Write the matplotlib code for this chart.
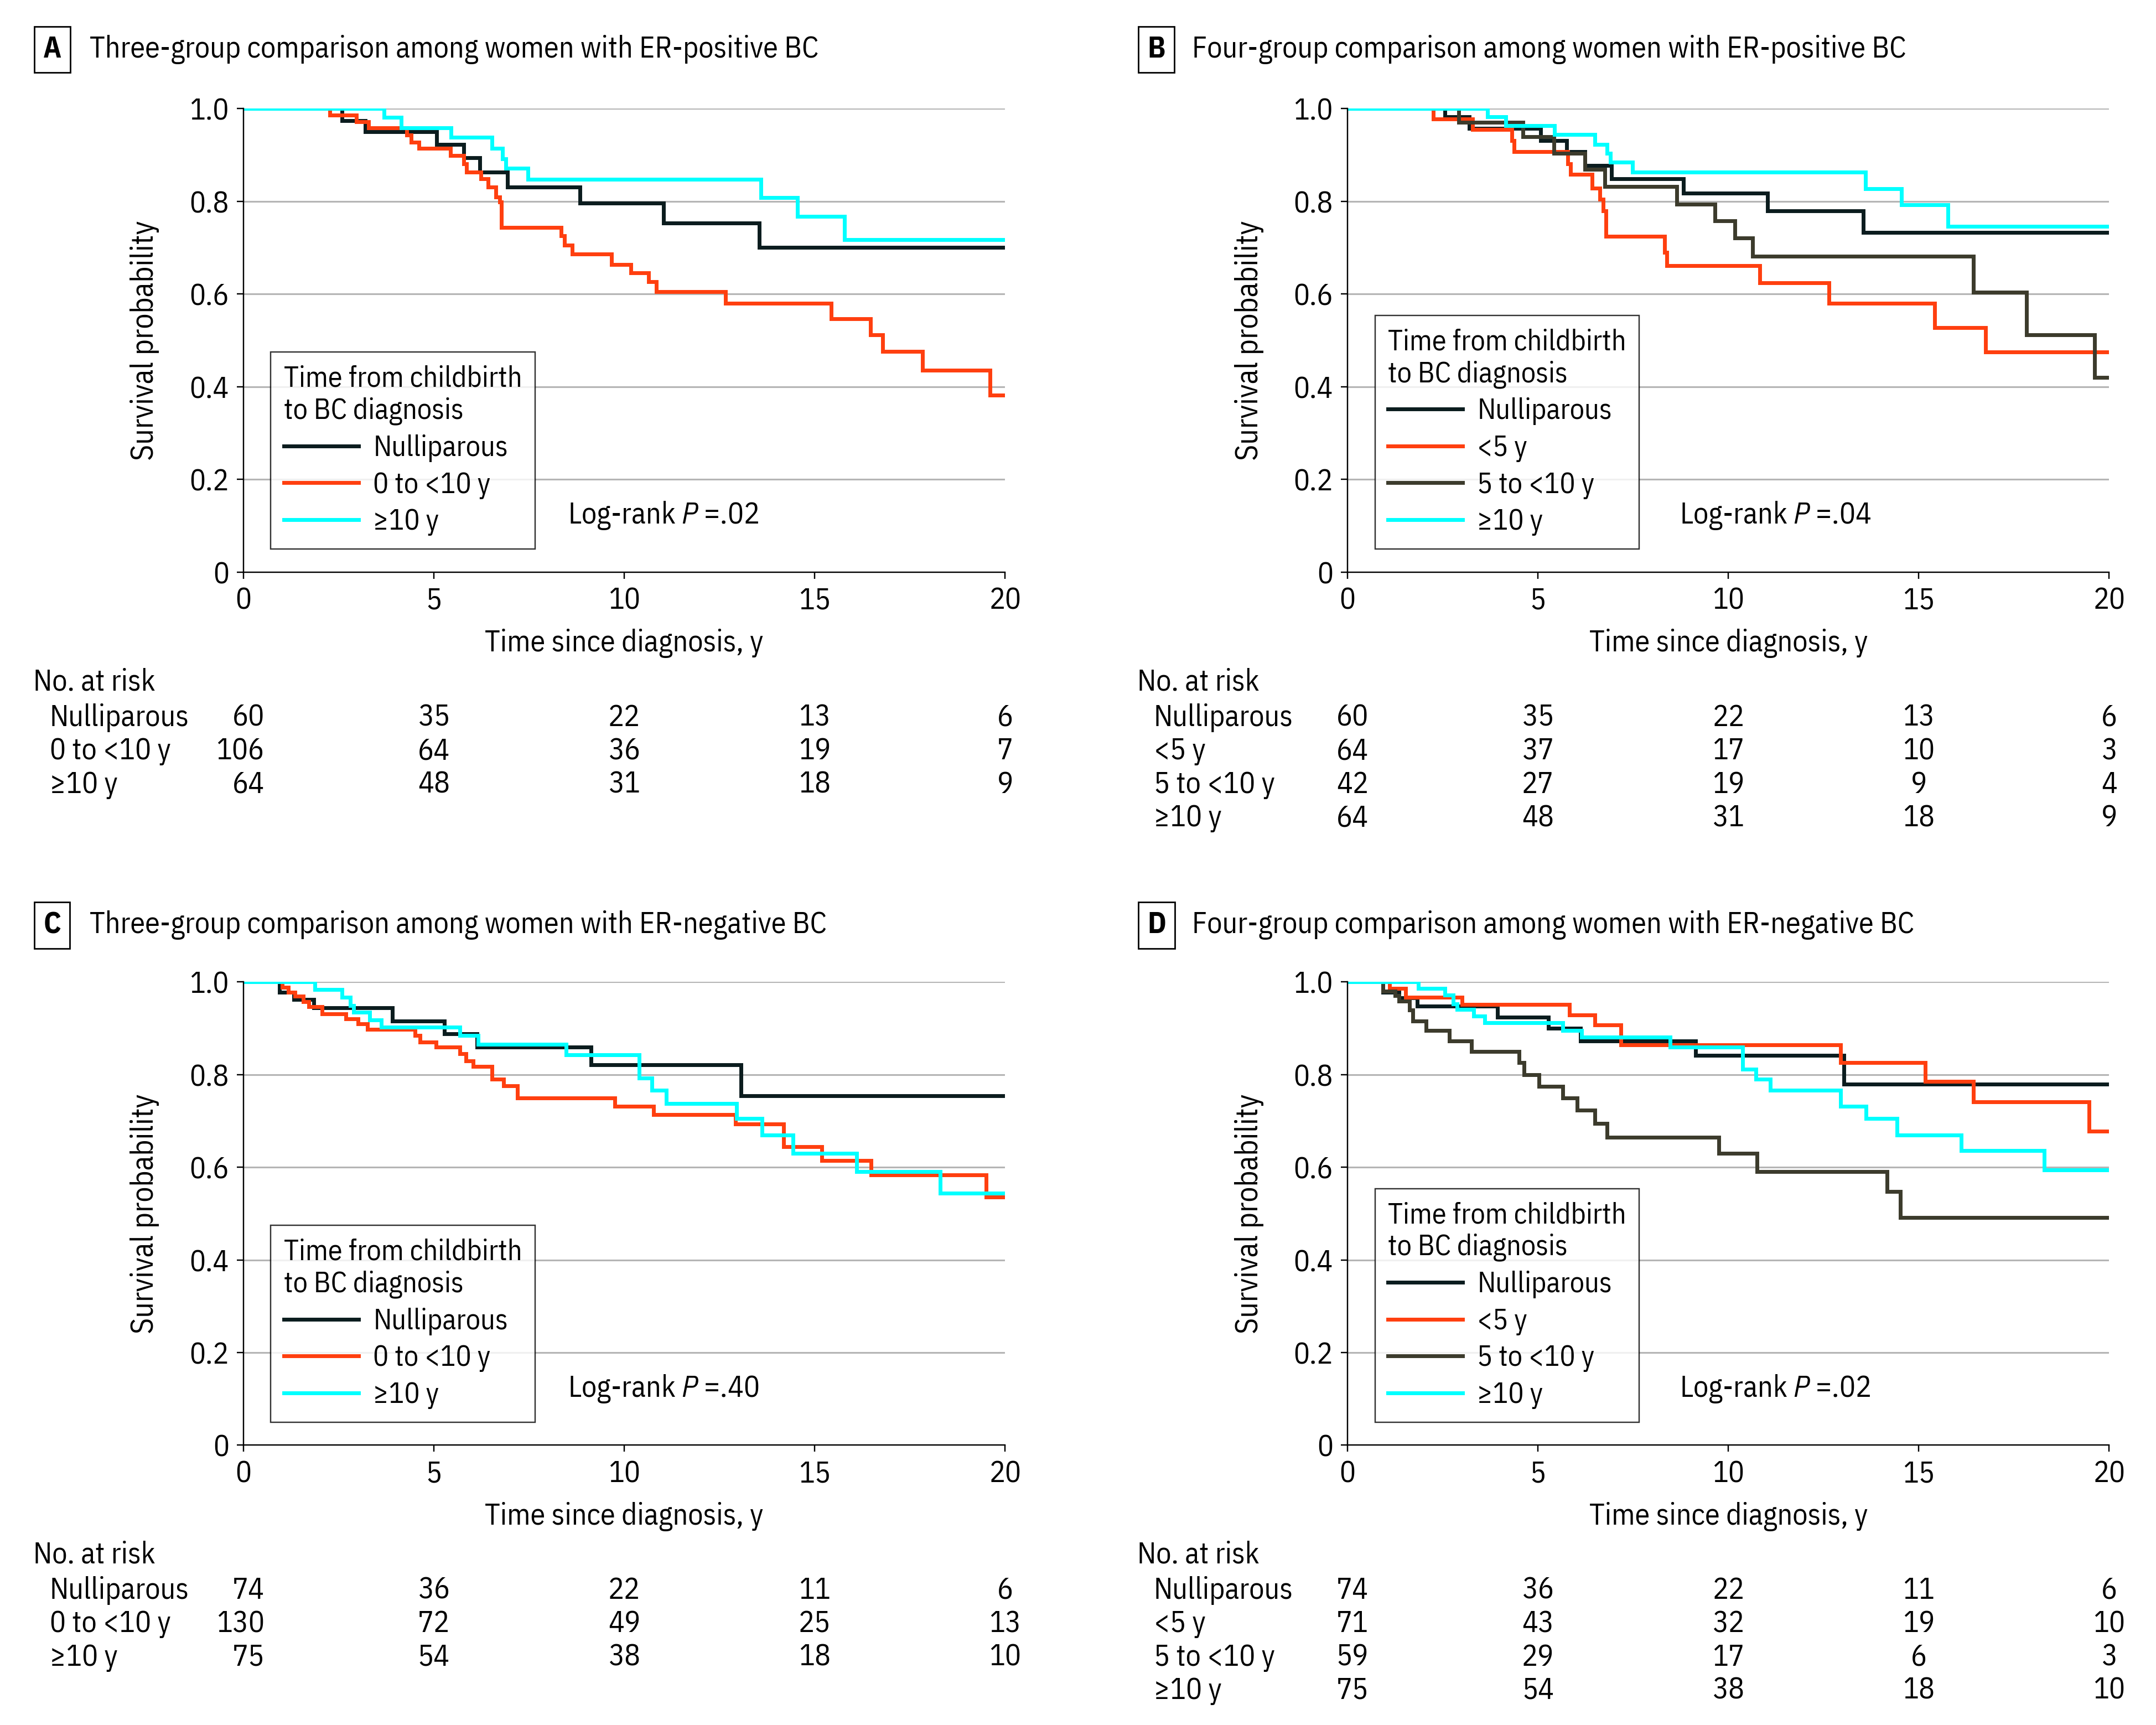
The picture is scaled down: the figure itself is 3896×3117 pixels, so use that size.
import matplotlib
matplotlib.use("Agg")
import matplotlib.pyplot as plt
from matplotlib.lines import Line2D
from matplotlib.transforms import blended_transform_factory

FONT = 'IBM Plex Sans Condensed'
plt.rcParams['font.family'] = [FONT, 'DejaVu Sans']
plt.rcParams['mathtext.fontset'] = 'custom'
plt.rcParams['mathtext.rm'] = FONT
plt.rcParams['mathtext.it'] = FONT + ':italic'
FS = 15.5
LW = 2.0

# colours
c_null = '#0b1c1e'
c_early = '#ff3f0f'
c_mid = '#3c3b2c'
c_late = '#00ffff'

# ---- panel A: ER-positive, three groups
a_null_t = [0, 2.59, 3.20, 5.08, 5.78, 6.20, 6.94, 8.83, 11.03, 13.55, 20]
a_null_s = [1.0, 0.974, 0.950, 0.923, 0.894, 0.863, 0.831, 0.796, 0.753, 0.701, 0.701]
a_early_t = [0, 2.27, 2.97, 3.29, 4.29, 4.40, 4.61, 5.43, 5.78, 5.86, 6.24, 6.42, 6.63, 6.73, 6.78,
             8.34, 8.43, 8.64, 9.67, 10.17, 10.64, 10.84, 12.66, 15.43, 16.46, 16.78, 17.83, 19.61, 20]
a_early_s = [1.0, 0.986, 0.972, 0.959, 0.943, 0.928, 0.914, 0.899, 0.881, 0.863, 0.849, 0.831, 0.809, 0.798, 0.744,
             0.726, 0.706, 0.686, 0.664, 0.646, 0.626, 0.605, 0.580, 0.546, 0.512, 0.476, 0.436, 0.382, 0.382]
a_late_t = [0, 3.69, 4.15, 5.45, 6.52, 6.80, 6.89, 7.47, 13.59, 14.55, 15.78, 20]
a_late_s = [1.0, 0.981, 0.959, 0.938, 0.914, 0.892, 0.872, 0.847, 0.808, 0.767, 0.717, 0.717]

# ---- panel B: ER-positive, four groups
b_null_t = [0, 2.56, 3.19, 5.07, 5.76, 6.24, 6.93, 8.82, 11.03, 13.54, 20]
b_null_s = [1.0, 0.983, 0.957, 0.931, 0.907, 0.878, 0.849, 0.818, 0.779, 0.733, 0.733]
b_lt5_t = [0, 2.25, 3.29, 4.31, 4.38, 5.79, 5.86, 6.42, 6.63, 6.72, 6.78, 8.32, 8.38, 10.83, 12.64, 15.42, 16.76, 20]
b_lt5_s = [1.0, 0.978, 0.955, 0.931, 0.907, 0.881, 0.858, 0.829, 0.805, 0.780, 0.724, 0.690, 0.661, 0.624, 0.580, 0.528, 0.475, 0.475]
b_mid_t = [0, 2.92, 4.61, 5.42, 6.24, 6.76, 8.64, 9.65, 10.17, 10.63, 16.44, 17.83, 19.61, 20]
b_mid_s = [1.0, 0.970, 0.939, 0.904, 0.869, 0.832, 0.794, 0.758, 0.721, 0.682, 0.604, 0.512, 0.420, 0.420]
b_late_t = [0, 3.68, 4.15, 5.44, 6.49, 6.81, 6.90, 7.49, 13.60, 14.54, 15.76, 20]
b_late_s = [1.0, 0.983, 0.963, 0.944, 0.923, 0.904, 0.884, 0.863, 0.827, 0.793, 0.746, 0.746]

# ---- panel C: ER-negative, three groups
c_null_t = [0, 0.95, 1.32, 1.85, 3.91, 5.28, 6.14, 9.12, 13.06, 20]
c_null_s = [1.0, 0.978, 0.962, 0.944, 0.915, 0.888, 0.859, 0.821, 0.754, 0.754]
c_early_t = [0, 1.02, 1.18, 1.36, 1.57, 1.71, 2.06, 2.69, 3.01, 3.25, 4.50, 4.64, 5.06, 5.68, 5.85, 6.03,
             6.52, 6.83, 7.19, 9.75, 10.77, 12.92, 14.18, 15.18, 16.48, 19.50, 20]
c_early_s = [1.0, 0.988, 0.978, 0.969, 0.957, 0.947, 0.931, 0.920, 0.910, 0.897, 0.884, 0.870, 0.859, 0.845, 0.830, 0.817,
             0.790, 0.776, 0.749, 0.732, 0.714, 0.693, 0.644, 0.615, 0.583, 0.536, 0.536]
c_late_t = [0, 1.88, 2.59, 2.80, 2.90, 3.31, 3.62, 5.68, 6.17, 8.47, 10.39, 10.72, 11.11, 12.95, 13.62, 14.43, 16.10, 18.29, 20]
c_late_s = [1.0, 0.983, 0.967, 0.949, 0.935, 0.918, 0.902, 0.884, 0.865, 0.843, 0.792, 0.766, 0.737, 0.705, 0.669, 0.630, 0.591, 0.544, 0.544]

# ---- panel D: ER-negative, four groups
d_null_t = [0, 0.93, 1.35, 1.83, 3.94, 5.28, 6.11, 9.14, 13.04, 20]
d_null_s = [1.0, 0.978, 0.965, 0.948, 0.924, 0.900, 0.873, 0.841, 0.779, 0.779]
d_lt5_t = [0, 1.11, 1.53, 3.01, 5.82, 6.49, 7.18, 12.94, 15.17, 16.44, 19.47, 20]
d_lt5_s = [1.0, 0.986, 0.967, 0.951, 0.929, 0.907, 0.864, 0.826, 0.785, 0.741, 0.678, 0.678]
d_mid_t = [0, 0.93, 1.25, 1.35, 1.63, 1.72, 2.07, 2.67, 3.25, 4.50, 4.64, 5.03, 5.65, 6.03, 6.49, 6.81, 9.75, 10.75, 14.17, 14.51, 20]
d_mid_s = [1.0, 0.980, 0.970, 0.958, 0.939, 0.915, 0.895, 0.873, 0.850, 0.826, 0.800, 0.774, 0.749, 0.723, 0.694, 0.665, 0.630, 0.591, 0.547, 0.492, 0.492]
d_late_t = [0, 1.86, 2.56, 2.78, 2.88, 3.32, 3.61, 5.65, 6.14, 8.47, 10.38, 10.72, 11.10, 12.94, 13.61, 14.43, 16.11, 18.29, 20]
d_late_s = [1.0, 0.986, 0.971, 0.953, 0.941, 0.926, 0.912, 0.895, 0.881, 0.859, 0.812, 0.790, 0.766, 0.732, 0.705, 0.669, 0.636, 0.594, 0.594]

# numbers at risk
risk_times = [0, 5, 10, 15, 20]
a_risk = {'Nulliparous': [60, 35, 22, 13, 6], '0 to <10 y': [106, 64, 36, 19, 7], '≥10 y': [64, 48, 31, 18, 9]}
b_risk = {'Nulliparous': [60, 35, 22, 13, 6], '<5 y': [64, 37, 17, 10, 3], '5 to <10 y': [42, 27, 19, 9, 4], '≥10 y': [64, 48, 31, 18, 9]}
c_risk = {'Nulliparous': [74, 36, 22, 11, 6], '0 to <10 y': [130, 72, 49, 25, 13], '≥10 y': [75, 54, 38, 18, 10]}
d_risk = {'Nulliparous': [74, 36, 22, 11, 6], '<5 y': [71, 43, 32, 19, 10], '5 to <10 y': [59, 29, 17, 6, 3], '≥10 y': [75, 54, 38, 18, 10]}

pvals = ['.02', '.04', '.40', '.02']
titles = ['Three-group comparison among women with ER-positive BC',
          'Four-group comparison among women with ER-positive BC',
          'Three-group comparison among women with ER-negative BC',
          'Four-group comparison among women with ER-negative BC']
letters = ['A', 'B', 'C', 'D']

panels = [
    [(a_null_t, a_null_s, c_null, 'Nulliparous'), (a_early_t, a_early_s, c_early, '0 to <10 y'), (a_late_t, a_late_s, c_late, '≥10 y')],
    [(b_null_t, b_null_s, c_null, 'Nulliparous'), (b_lt5_t, b_lt5_s, c_early, '<5 y'), (b_mid_t, b_mid_s, c_mid, '5 to <10 y'), (b_late_t, b_late_s, c_late, '≥10 y')],
    [(c_null_t, c_null_s, c_null, 'Nulliparous'), (c_early_t, c_early_s, c_early, '0 to <10 y'), (c_late_t, c_late_s, c_late, '≥10 y')],
    [(d_null_t, d_null_s, c_null, 'Nulliparous'), (d_lt5_t, d_lt5_s, c_early, '<5 y'), (d_mid_t, d_mid_s, c_mid, '5 to <10 y'), (d_late_t, d_late_s, c_late, '≥10 y')],
]
risks = [a_risk, b_risk, c_risk, d_risk]

fig = plt.figure(figsize=(15.584, 12.468), dpi=250)

# axes positions in figure fraction
lefts = [0.1129, 0.6250, 0.1129, 0.6250]
bottoms = [0.6684, 0.6684, 0.1622, 0.1622]
W = 0.3533
H = 0.2686
title_y = [0.9713, 0.9713, 0.4636, 0.4636]
box_x = [0.0242, 0.5364, 0.0242, 0.5364]
text_x = [0.0415, 0.5529, 0.0415, 0.5529]
head_x = [0.0153, 0.5274, 0.0153, 0.5274]
row_x = [0.0230, 0.5351, 0.0230, 0.5351]
risk_head_y = [0.6046, 0.6046, 0.0988, 0.0988]
row_step = 0.0194

for i in range(4):
    ax = fig.add_axes([lefts[i], bottoms[i], W, H])
    for t, s, col, lab in panels[i]:
        ax.step(t, s, where='post', color=col, lw=LW, label=lab, solid_joinstyle='miter')
    ax.set_xlim(0, 20)
    ax.set_ylim(0, 1.0)
    ax.set_xticks(risk_times)
    ax.set_yticks([0, 0.2, 0.4, 0.6, 0.8, 1.0])
    ax.set_yticklabels(['0', '0.2', '0.4', '0.6', '0.8', '1.0'])
    for yv in [0.2, 0.4, 0.6, 0.8, 1.0]:
        ax.axhline(yv, color='#b5b5b5', lw=0.9, zorder=0)
    ax.spines['top'].set_visible(False)
    ax.spines['right'].set_visible(False)
    ax.spines['left'].set_linewidth(0.7)
    ax.spines['bottom'].set_linewidth(0.7)
    ax.tick_params(direction='out', length=3.5, width=0.7, labelsize=FS, pad=4)
    ax.set_ylabel('Survival probability', fontsize=16)
    ax.yaxis.set_label_coords(-0.11, 0.5)
    ax.set_xlabel('Time since diagnosis, y', fontsize=FS)
    ax.xaxis.set_label_coords(0.5, -0.122)

    handles = [Line2D([], [], color=col, lw=LW) for _, _, col, _ in panels[i]]
    labels = [lab for _, _, _, lab in panels[i]]
    leg = ax.legend(handles, labels, title='Time from childbirth\nto BC diagnosis', loc='lower left',
                    bbox_to_anchor=(0.036, 0.05), borderaxespad=0, fontsize=15, title_fontsize=15,
                    alignment='left', frameon=True, fancybox=False, handlelength=2.6, handletextpad=0.5,
                    labelspacing=0.32, borderpad=0.45)
    leg.get_frame().set_edgecolor('black')
    leg.get_frame().set_linewidth(0.7)

    ax.text(0.426 if i % 2 == 0 else 0.436, 0.122, 'Log-rank $P$ =' + pvals[i], transform=ax.transAxes,
            fontsize=FS, va='center', ha='left')

    # panel letter and title
    fig.text(box_x[i], title_y[i], letters[i], fontsize=FS, fontweight='bold', ha='center', va='center',
             bbox=dict(boxstyle='square,pad=0.3', fc='white', ec='black', lw=0.8))
    fig.text(text_x[i], title_y[i], titles[i], fontsize=FS, ha='left', va='center')

    # numbers at risk table
    tr = blended_transform_factory(ax.transData, fig.transFigure)
    fig.text(head_x[i], risk_head_y[i], 'No. at risk', fontsize=FS, ha='left', va='center')
    for r, (lab, vals) in enumerate(risks[i].items()):
        yy = risk_head_y[i] - 0.0013 - (r + 1) * row_step
        fig.text(row_x[i], yy, lab, fontsize=FS, ha='left', va='center')
        for k, (tt, v) in enumerate(zip(risk_times, vals)):
            if k == 0:
                fig.text(tt + 0.55, yy, str(v), fontsize=FS, ha='right', va='center', transform=tr)
            else:
                fig.text(tt, yy, str(v), fontsize=FS, ha='center', va='center', transform=tr)

fig.savefig('out.png', dpi=250, facecolor='white')
